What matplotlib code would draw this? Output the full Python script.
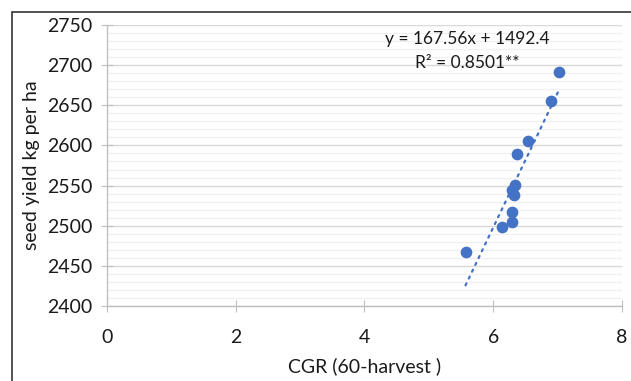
import numpy as np
import matplotlib
matplotlib.use("Agg")
from matplotlib import pyplot as plt
from matplotlib.patches import Rectangle

# dados
cgr = [7.02, 6.90, 6.54, 6.37, 6.34, 6.30, 6.32, 6.30, 6.30, 6.14, 5.57]
rendimento = [2692, 2655, 2605, 2589, 2551, 2544, 2538, 2517, 2504, 2498, 2467]
coef_a = 167.56
coef_b = 1492.4
texto_eq = "y = 167.56x + 1492.4"
texto_r2 = "R² = 0.8501**"
rotulo_x = "CGR (60-harvest )"
rotulo_y = "seed yield kg per ha"

plt.rcParams['font.family'] = ['Lato', 'DejaVu Sans']
azul = '#4472C4'
cor_texto = '#1a1a1a'

fig = plt.figure(figsize=(6.31, 3.81), dpi=100)
ax = fig.add_axes([0.1696, 0.1969, 0.816, 0.7375])

# moldura preta (cortada na direita e embaixo)
fig.patches.append(Rectangle((12 / 631, -0.1), 1.2, 1 - 11.5 / 381 + 0.1,
                             transform=fig.transFigure, fill=False,
                             edgecolor='#222222', linewidth=1.1))

ax.scatter(cgr, rendimento, s=55, color=azul, zorder=3)

xs = np.array([min(cgr), max(cgr)])
ax.plot(xs, coef_a * xs + coef_b, linestyle=(0, (1, 2.4)), color=azul,
        linewidth=1.6, dash_capstyle='round', zorder=2)

ax.set_xlim(0, 8)
ax.set_ylim(2400, 2750)
ax.set_xticks(range(0, 9, 2))
ax.set_yticks(range(2400, 2751, 50))
ax.set_yticks(range(2400, 2751, 10), minor=True)

ax.grid(True, which='major', axis='y', color='#d9d9d9', linewidth=1)
ax.grid(True, which='minor', axis='y', color='#f0f0f0', linewidth=1)
ax.set_axisbelow(True)

for lado in ['top', 'right']:
    ax.spines[lado].set_visible(False)
for lado in ['left', 'bottom']:
    ax.spines[lado].set_color('#bfbfbf')
    ax.spines[lado].set_linewidth(1)

ax.tick_params(axis='both', which='major', direction='inout', length=9,
               color='#bfbfbf', labelsize=14, labelcolor=cor_texto)
ax.tick_params(axis='y', which='minor', length=0)
ax.tick_params(axis='y', pad=6)
ax.tick_params(axis='x', pad=12)

ax.set_xlabel(rotulo_x, fontsize=14, color=cor_texto, labelpad=8)
ax.set_ylabel(rotulo_y, fontsize=14, color=cor_texto, labelpad=5)

ax.text(0.70, 0.95, texto_eq, transform=ax.transAxes, ha='center',
        va='center', fontsize=12.5, color=cor_texto)
ax.text(0.70, 0.865, texto_r2, transform=ax.transAxes, ha='center',
        va='center', fontsize=12.5, color=cor_texto)

fig.savefig("out.png", dpi=100)
